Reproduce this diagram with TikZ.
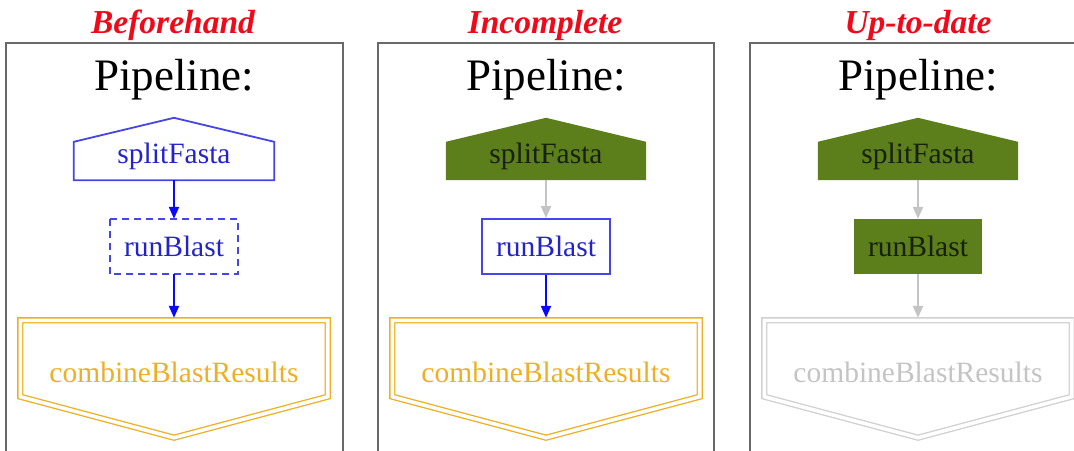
\documentclass[tikz,border=0pt]{standalone}
\usepackage{fontspec}
\setmainfont{Liberation Serif}
\usepackage{xcolor}
\usepackage{tikz}
\usetikzlibrary{arrows.meta,calc,positioning,backgrounds}

\definecolor{tred}{RGB}{240,10,25}
\definecolor{tblue}{RGB}{35,35,205}
\definecolor{lblue}{RGB}{70,70,230}
\definecolor{ablue}{RGB}{10,10,250}
\definecolor{gold}{RGB}{240,175,35}
\definecolor{olive}{RGB}{92,126,27}
\definecolor{ink}{RGB}{22,32,10}
\definecolor{lgray}{RGB}{196,196,196}
\definecolor{frm}{RGB}{105,105,105}

\begin{document}
\begin{tikzpicture}[x=1pt,y=-1pt,
  title/.style={anchor=base,text=tred,font=\fontsize{33.5}{38}\selectfont\bfseries\itshape},
  pipe/.style={anchor=base,font=\fontsize{45}{50}\selectfont},
  task/.style={inner sep=0pt,font=\fontsize{29.5}{32}\selectfont,text height=20pt},
  house/.style={task,minimum width=200pt,minimum height=38pt,text depth=16pt},
  job/.style={task,minimum width=128pt,minimum height=55pt,text depth=0pt},
  final/.style={task,minimum width=307pt,minimum height=117pt,text depth=14pt},
  frame/.style={draw=frm,line width=1.8pt},
  arr/.style={-{Triangle[length=12pt,width=10pt]},line width=2.2pt},
  edge/.style={line width=1.8pt},
  twin/.style={line width=1.3pt,double=white,double distance=3.6pt}]
\useasboundingbox (0,0) rectangle (1074,450);
\clip (0,0) rectangle (1074,450);

% frames
\draw[frame] (6,43) rectangle (343,470);
\draw[frame] (378,43) rectangle (714,470);
\draw[frame] (750,43) rectangle (1090,470);

% headings
\node[title] (t1) at (173,33) {Beforehand};
\node[title] (t2) at (545,33) {Incomplete};
\node[title] (t3) at (918,33) {Up-to-date};
\node[pipe] (p1) at (174,90) {Pipeline:};
\node[pipe] (p2) at (546,90) {Pipeline:};
\node[pipe] (p3) at (918,90) {Pipeline:};

% beforehand
\node[house,text=tblue] (split1) at (174,161) {splitFasta};
\node[job,text=tblue] (run1) at (174,246.5) {runBlast};
\node[final,text=gold] (comb1) at (174,379) {combineBlastResults};
\draw[edge,draw=lblue] (split1.south west) -- (split1.north west) -- ([yshift=24pt]split1.north)
  -- (split1.north east) -- (split1.south east) -- cycle;
\draw[edge,draw=lblue,dash pattern=on 7pt off 5pt] (run1.north west) rectangle (run1.south east);
\draw[twin,draw=gold] (comb1.north west) -- (comb1.north east) -- ([yshift=41pt]comb1.south east)
  -- (comb1.south) -- ([yshift=41pt]comb1.south west) -- cycle;
\draw[arr,ablue] (split1) -- (run1);
\draw[arr,ablue] (run1) -- ([yshift=2.5pt]comb1.north);

% incomplete
\node[house,text=ink] (split2) at (546,161) {splitFasta};
\node[job,text=tblue,draw=lblue,edge] (run2) at (546,246.5) {runBlast};
\node[final,text=gold] (comb2) at (546,379) {combineBlastResults};
\begin{scope}[on background layer]
\fill[olive] (split2.south west) -- (split2.north west) -- ([yshift=24pt]split2.north)
  -- (split2.north east) -- (split2.south east) -- cycle;
\end{scope}
\draw[twin,draw=gold] (comb2.north west) -- (comb2.north east) -- ([yshift=41pt]comb2.south east)
  -- (comb2.south) -- ([yshift=41pt]comb2.south west) -- cycle;
\draw[arr,lgray] (split2) -- (run2);
\draw[arr,ablue] (run2) -- ([yshift=2.5pt]comb2.north);

% up-to-date
\node[house,text=ink] (split3) at (918,161) {splitFasta};
\node[job,text=ink,fill=olive] (run3) at (918,246.5) {runBlast};
\node[final,text=lgray] (comb3) at (918,379) {combineBlastResults};
\begin{scope}[on background layer]
\fill[olive] (split3.south west) -- (split3.north west) -- ([yshift=24pt]split3.north)
  -- (split3.north east) -- (split3.south east) -- cycle;
\end{scope}
\draw[twin,draw=lgray!80] (comb3.north west) -- (comb3.north east) -- ([yshift=41pt]comb3.south east)
  -- (comb3.south) -- ([yshift=41pt]comb3.south west) -- cycle;
\draw[arr,lgray] (split3) -- (run3);
\draw[arr,lgray] (run3) -- ([yshift=2.5pt]comb3.north);
\end{tikzpicture}
\end{document}
